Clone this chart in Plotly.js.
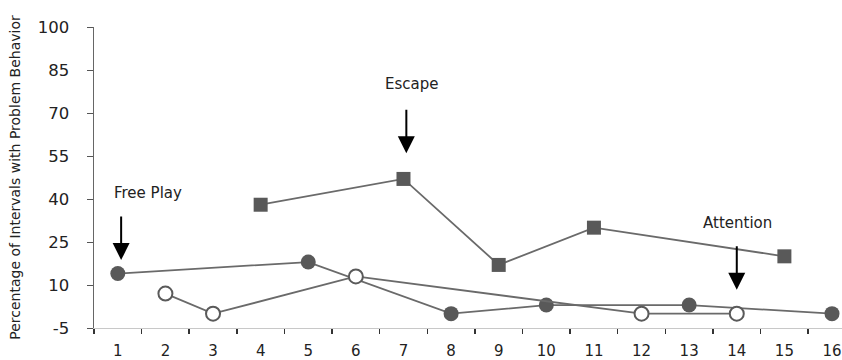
<!DOCTYPE html>
<html>
<head>
<meta charset="utf-8">
<script src="https://cdn.plot.ly/plotly-3.0.1.min.js"></script>
<style>html,body{margin:0;padding:0;overflow:hidden;background:#fff;}</style>
</head>
<body>
<div id="chart" style="width:842px;height:360px;"></div>
<script>
// Sessions (x-axis categories)
const sessions = ['1','2','3','4','5','6','7','8','9','10','11','12','13','14','15','16'];

// Filled squares series
const squareX = ['4','7','9','11','15'];
const squareY = [38, 47, 17, 30, 20];

// Filled circles series
const filledX = ['1','5','8','10','13','16'];
const filledY = [14, 18, 0, 3, 3, 0];

// Open circles series
const openX = ['2','3','6','12','14'];
const openY = [7, 0, 13, 0, 0];

// Y tick values and labels
const yTicks = [-5, 10, 25, 40, 55, 70, 85, 100];
const yTickLabels = ['-5', '10', '25', '40', '55', '70', '85', '100'];

const lineColor = '#6a6a6a';
const markColor = '#595959';

const traces = [
  {x: squareX, y: squareY, type: 'scatter', mode: 'lines+markers', name: 'Squares',
   line: {color: lineColor, width: 1.8},
   marker: {symbol: 'square', size: 14, color: markColor, line: {width: 0}}},
  {x: filledX, y: filledY, type: 'scatter', mode: 'lines+markers', name: 'Filled circles',
   line: {color: lineColor, width: 1.8},
   marker: {symbol: 'circle', size: 15, color: markColor, line: {width: 0}}},
  {x: openX, y: openY, type: 'scatter', mode: 'lines+markers', name: 'Open circles',
   line: {color: lineColor, width: 1.8},
   marker: {symbol: 'circle', size: 14, color: '#ffffff', line: {width: 2, color: '#5a5a5a'}}}
];

const txtFont = {family: 'DejaVu Sans', size: 15, color: '#222'};
const arrow = {showarrow: true, arrowhead: 2, arrowsize: 1.7, arrowwidth: 2, arrowcolor: '#000', ax: 0, ay: -45, text: '', standoff: 0};

const layout = {
  width: 842, height: 360,
  margin: {l: 94, r: 0, t: 27, b: 32, pad: 0},
  paper_bgcolor: '#fff', plot_bgcolor: '#fff',
  showlegend: false,
  font: {family: 'DejaVu Sans', color: '#222'},
  xaxis: {
    type: 'category', categoryorder: 'array', categoryarray: sessions,
    range: [-0.5, 15.21], tickson: 'boundaries',
    ticks: 'outside', ticklen: 5, tickwidth: 1.5, tickcolor: '#333',
    showline: true, linecolor: '#c8c8c8', linewidth: 1,
    showgrid: false, zeroline: false,
    tickfont: {family: 'DejaVu Sans', size: 15, color: '#222'},
    ticklabelstandoff: 9, fixedrange: true
  },
  yaxis: {
    range: [-5, 100], tickmode: 'array', tickvals: yTicks, ticktext: yTickLabels,
    ticks: 'outside', ticklen: 6, tickwidth: 1, tickcolor: '#555',
    showline: true, linecolor: '#666', linewidth: 1.5,
    showgrid: false, zeroline: false,
    tickfont: {family: 'DejaVu Sans', size: 16.5, color: '#222'},
    ticklabelstandoff: 14,
    title: {text: 'Percentage of Intervals with Problem Behavior', font: {family: 'DejaVu Sans', size: 14, color: '#222'}, standoff: 14},
    automargin: false, fixedrange: true
  },
  annotations: [
    {x: 0.63, y: 42, xref: 'x', yref: 'y', text: 'Free Play', showarrow: false, font: txtFont},
    Object.assign({x: 0.07, y: 18.7, xref: 'x', yref: 'y'}, arrow),
    {x: 6.17, y: 80, xref: 'x', yref: 'y', text: 'Escape', showarrow: false, font: txtFont},
    Object.assign({x: 6.06, y: 56, xref: 'x', yref: 'y'}, arrow),
    {x: 13.02, y: 31.6, xref: 'x', yref: 'y', text: 'Attention', showarrow: false, font: txtFont},
    Object.assign({x: 13.0, y: 8.3, xref: 'x', yref: 'y'}, arrow)
  ]
};

Plotly.newPlot('chart', traces, layout, {displayModeBar: false, staticPlot: true});
</script>
</body>
</html>
